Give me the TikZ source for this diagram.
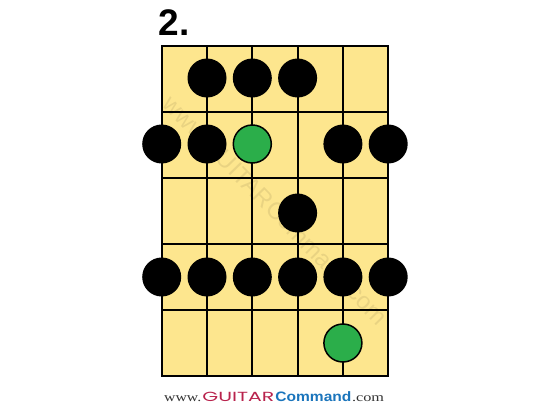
\documentclass[tikz,border=0pt]{standalone}
\usepackage{fontspec}
\setmainfont{Liberation Serif}
\newfontfamily\headfont{Liberation Sans}
\newfontfamily\guitarfont{Poppins}
\usepackage{graphicx}
\usepackage{tikz}
\definecolor{board}{HTML}{FDE68E}
\definecolor{rootgreen}{HTML}{2BAE4A}
\definecolor{brandred}{HTML}{B8224C}
\definecolor{brandblue}{HTML}{1B75BC}
\definecolor{urlgray}{HTML}{333333}
\tikzstyle{fretline} = [line width=2pt, draw=black]
\tikzstyle{note} = [circle, minimum size=39pt, inner sep=0pt, fill=black]
\tikzstyle{rootnote} = [circle, minimum size=38pt, inner sep=0pt, fill=rootgreen, draw=black, line width=1.5pt]

\begin{document}
\begin{tikzpicture}[x=1pt, y=-1pt]
\useasboundingbox (0,0) rectangle (550,409);
% fretboard
\fill [board] (161.7,46) rectangle (388.3,376);
\node [opacity=0.08, rotate=-45.6, font=\headfont\fontsize{24}{24}\selectfont] (mark) at (276,210) {www.GUITARCommand.com};
\foreach \s in {0,...,5}
  \draw [fretline] (161.7+45.3*\s,46) -- (161.7+45.3*\s,376);
\foreach \f in {0,...,5}
  \draw [fretline] (161.7,46+66*\f) -- (388.3,46+66*\f);
\draw [fretline] (161.7,46) rectangle (388.3,376);

% title
\node [anchor=south west, inner sep=0pt, font=\headfont\bfseries\fontsize{37}{37}\selectfont] (title) at (158.5,36) {2.};

% notes
\foreach \s in {1,2,3}
  \node [note] (a\s) at (161.7+45.3*\s,78) {};
\foreach \s in {0,1,4,5}
  \node [note] (b\s) at (161.7+45.3*\s,144) {};
\node [rootnote] (b2) at (252.3,144) {};
\node [note] (c3) at (297.6,213) {};
\foreach \s in {0,...,5}
  \node [note] (d\s) at (161.7+45.3*\s,277) {};
\node [rootnote] (e4) at (342.9,343) {};

% footer
\node [anchor=base west, inner sep=0pt, text=urlgray] (url) at (164,402)
  {\resizebox{37pt}{5.8pt}{www.}\hspace{1.2pt}%
   \textcolor{brandred}{\resizebox{72pt}{9.3pt}{\guitarfont GUITAR}}\hspace{1pt}%
   \textcolor{brandblue}{\resizebox{76pt}{9.9pt}{\headfont\bfseries Command}}\hspace{0.6pt}%
   \resizebox{32pt}{5.8pt}{.com}};
\end{tikzpicture}
\end{document}
